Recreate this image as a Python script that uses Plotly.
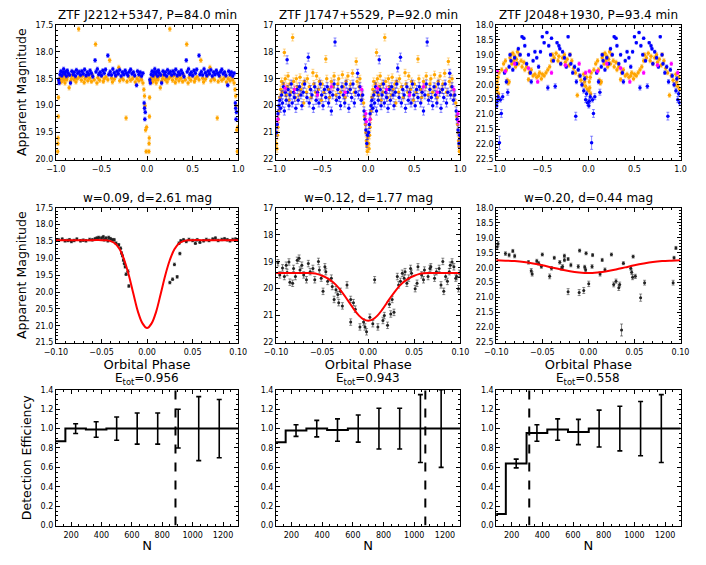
import plotly.graph_objects as go
from plotly.subplots import make_subplots

# The page body has an 8px margin, so the figure is sized and placed to compensate.
OFF = 8
W, H = 706 - OFF, 565 - OFF

# ---------------- data ----------------
titles_top = ["ZTF J2212+5347, P=84.0 min", "ZTF J1747+5529, P=92.0 min", "ZTF J2048+1930, P=93.4 min"]
titles_mid = ["w=0.09, d=2.61 mag", "w=0.12, d=1.77 mag", "w=0.20, d=0.44 mag"]
titles_bot = ["E<sub>tot</sub>=0.956", "E<sub>tot</sub>=0.943", "E<sub>tot</sub>=0.558"]
ytitles = ["Apparent Magnitude", "Apparent Magnitude", "Detection Efficiency"]
xtitles = [None, "Orbital Phase", "N"]

# Panel 1 (J2212+5347) folded light curve, phase 0..1
p1_or_ph = [0.020,0.022,0.024,0.026,0.028,0.034,0.04,0.05,0.06,0.07,0.08,0.09,0.10,0.11,0.12,0.13,0.145,0.16,0.17,0.18,
            0.20,0.21,0.22,0.235,0.25,0.26,0.28,0.29,0.31,0.32,0.34,0.35,0.37,0.39,0.40,0.42,0.435,0.45,0.46,0.48,
            0.50,0.52,0.53,0.55,0.57,0.59,0.61,0.62,0.64,0.66,0.69,0.70,0.72,0.74,0.77,0.78,0.80,0.82,0.84,0.86,
            0.87,0.89,0.91,0.92,0.94,0.955,0.965,0.972,0.978,0.984,0.99,0.995]
p1_or_mag = [19.85,19.70,19.60,19.20,18.85,18.55,18.52,18.48,18.56,18.50,18.45,18.53,18.58,18.48,18.52,18.46,18.67,18.55,18.50,18.44,
             18.52,18.48,18.56,18.50,17.58,18.47,18.53,18.45,18.57,18.50,18.46,18.54,18.49,18.55,18.44,18.52,17.86,18.58,18.48,18.53,
             18.45,18.55,18.50,18.47,18.52,18.16,18.49,18.56,18.51,18.45,18.29,18.54,18.48,18.52,19.23,18.55,18.47,18.53,18.50,18.45,
             18.56,18.50,18.54,18.46,18.52,18.58,18.70,18.82,19.00,19.45,19.85,19.40]
p1_or_err = 0.04
p1_bl_ph = [0.03,0.036,0.045,0.055,0.065,0.075,0.085,0.095,0.105,0.115,0.125,0.135,0.15,0.16,0.175,0.19,0.20,0.215,0.225,0.24,
            0.255,0.27,0.285,0.30,0.315,0.33,0.345,0.36,0.375,0.39,0.405,0.43,0.44,0.455,0.47,0.485,0.50,0.515,0.53,0.545,
            0.57,0.58,0.595,0.61,0.625,0.64,0.655,0.67,0.685,0.70,0.715,0.73,0.745,0.76,0.775,0.79,0.805,0.82,0.835,0.85,
            0.865,0.885,0.895,0.91,0.925,0.94,0.955,0.968,0.972,0.976,0.98]
p1_bl_mag = [18.52,18.58,18.42,18.36,18.44,18.38,18.32,18.41,18.37,18.45,18.35,18.40,18.43,18.58,18.36,18.42,18.38,18.45,18.34,18.40,
             18.37,18.43,18.36,18.41,18.33,18.44,18.38,18.42,18.35,18.40,18.46,18.16,18.37,18.32,18.42,18.38,18.44,18.35,18.40,18.33,
             18.07,18.42,18.37,18.43,18.32,18.39,18.44,18.36,18.41,18.34,18.45,18.38,18.42,18.35,18.40,18.44,18.37,18.33,18.41,18.38,
             18.44,18.62,18.36,18.42,18.38,18.45,18.40,18.95,19.05,19.25,19.12]
p1_bl_err = 0.035

# Panel 2 (J1747+5529)
p2_or_ph = [0.005,0.01,0.015,0.02,0.025,0.03,0.04,0.05,0.06,0.07,0.08,0.09,0.10,0.11,0.12,0.13,0.14,0.15,0.16,0.18,
            0.19,0.20,0.21,0.22,0.23,0.25,0.26,0.27,0.29,0.30,0.31,0.33,0.34,0.36,0.38,0.40,0.41,0.43,0.44,0.46,
            0.47,0.49,0.50,0.52,0.54,0.55,0.57,0.58,0.60,0.62,0.63,0.65,0.67,0.68,0.70,0.72,0.73,0.75,0.76,0.78,
            0.80,0.81,0.83,0.85,0.87,0.88,0.90,0.91,0.93,0.95,0.96,0.97,0.975,0.98,0.985,0.99,0.995]
p2_or_mag = [21.4,21.6,21.1,20.8,20.5,20.2,19.7,19.4,19.1,19.5,19.2,18.03,19.0,19.6,19.3,18.9,19.8,19.2,19.5,17.47,
             19.1,19.4,19.7,19.0,19.3,19.6,18.95,19.4,19.2,19.9,19.1,19.5,19.0,19.3,19.7,18.78,19.2,19.5,18.9,19.4,
             19.1,19.8,19.2,19.5,18.27,19.0,19.4,19.7,19.1,19.3,18.9,19.6,19.2,19.0,19.5,18.85,19.3,19.7,19.1,18.9,
             19.4,19.2,18.8,19.5,18.36,19.1,19.3,19.0,19.6,19.9,20.4,20.7,21.0,21.3,21.5,21.7,21.2]
p2_or_err = 0.13
p2_bl_ph = [0.005,0.012,0.02,0.03,0.04,0.05,0.06,0.07,0.08,0.09,0.10,0.11,0.12,0.13,0.14,0.15,0.165,0.175,0.19,0.20,
            0.215,0.23,0.24,0.255,0.27,0.28,0.295,0.31,0.32,0.335,0.35,0.36,0.375,0.39,0.405,0.42,0.435,0.45,0.465,0.48,
            0.495,0.51,0.525,0.54,0.555,0.57,0.585,0.60,0.615,0.63,0.64,0.655,0.67,0.685,0.70,0.715,0.73,0.745,0.76,0.775,
            0.79,0.805,0.82,0.835,0.85,0.865,0.885,0.895,0.91,0.925,0.94,0.955,0.965,0.975,0.985,0.992]
p2_bl_mag = [21.0,20.7,20.3,20.0,19.8,20.1,19.6,19.9,19.3,20.2,19.5,19.8,18.3,19.4,20.0,19.6,19.2,19.9,19.5,19.7,
             20.1,19.4,19.8,19.3,19.6,20.0,19.5,19.2,18.6,19.7,18.2,19.9,19.4,19.6,20.1,19.3,19.8,19.5,19.9,19.2,
             19.6,20.0,19.4,19.7,19.3,19.9,19.5,20.2,19.6,19.2,17.64,19.8,19.4,19.7,20.0,19.3,19.6,19.9,19.2,19.5,
             20.1,19.4,19.7,19.2,19.9,19.5,18.8,19.6,19.3,19.8,19.6,20.2,20.5,20.9,21.4,21.1]
p2_bl_err = 0.15
p2_mg_ph = [0.02,0.10,0.20,0.45,0.60,0.75,0.93,0.975,0.98]
p2_mg_mag = [20.5,19.35,19.4,19.6,19.3,19.5,19.4,20.3,20.6]
p2_mg_err = 0.12

# Panel 3 (J2048+1930)
p3_or_ph = [0.005,0.01,0.015,0.02,0.025,0.03,0.06,0.08,0.10,0.11,0.12,0.13,0.14,0.15,0.16,0.17,0.18,0.19,0.20,0.21,
            0.22,0.23,0.24,0.25,0.27,0.28,0.30,0.31,0.33,0.35,0.36,0.38,0.40,0.42,0.44,0.46,0.47,0.49,0.50,0.52,
            0.54,0.56,0.58,0.60,0.61,0.63,0.65,0.67,0.68,0.70,0.72,0.74,0.75,0.77,0.79,0.80,0.82,0.84,0.86,0.88,
            0.90,0.92,0.94,0.95,0.96,0.97,0.98,0.99]
p3_or_mag = [20.2,19.9,20.1,19.75,20.3,19.6,19.5,19.3,19.2,19.5,19.85,19.95,19.9,19.1,19.0,19.3,18.95,19.2,19.05,19.4,
             19.15,18.9,19.3,19.0,19.2,19.4,19.25,19.5,19.4,19.83,19.6,19.5,19.7,19.65,19.75,19.7,19.6,19.8,19.65,19.7,
             19.6,19.5,19.4,19.2,19.0,19.1,18.95,19.2,19.05,19.3,19.1,19.0,19.25,19.15,19.35,19.0,19.2,19.45,19.6,20.35,
             19.7,19.85,20.0,19.65,19.9,20.05,19.75,20.15]
p3_or_err = 0.07
p3_bl_ph = [0.005,0.01,0.02,0.035,0.045,0.055,0.07,0.09,0.11,0.125,0.14,0.15,0.16,0.18,0.20,0.22,0.24,0.26,0.28,0.30,
            0.31,0.33,0.35,0.37,0.38,0.40,0.42,0.44,0.46,0.48,0.50,0.52,0.55,0.56,0.57,0.59,0.60,0.62,0.64,0.66,
            0.68,0.69,0.70,0.72,0.74,0.76,0.78,0.80,0.81,0.83,0.85,0.863,0.87,0.89,0.91,0.93,0.95,0.96,0.97,0.98,0.99]
p3_bl_mag = [20.7,20.55,20.4,21.94,20.5,20.96,20.4,19.6,19.9,20.25,19.4,19.0,19.2,19.5,19.1,19.3,18.8,19.0,18.4,18.45,
             18.7,19.3,19.0,19.6,19.9,19.2,18.9,19.1,19.4,18.9,18.4,18.6,18.26,20.1,18.7,19.0,18.45,19.2,20.05,18.6,
             18.7,18.8,19.3,18.9,19.1,19.4,18.4,19.0,19.3,19.6,19.4,21.05,19.9,19.5,19.7,20.0,20.2,19.8,20.5,20.3,20.6]
p3_bl_err = [0.08,0.08,0.08,0.22,0.08,0.13,0.1,0.06,0.07,0.1,0.06,0.05,0.05,0.06,0.05,0.05,0.05,0.05,0.04,0.04,
             0.05,0.05,0.05,0.06,0.07,0.05,0.05,0.05,0.06,0.05,0.04,0.04,0.04,0.08,0.05,0.05,0.04,0.05,0.08,0.04,
             0.05,0.05,0.05,0.05,0.05,0.06,0.04,0.05,0.05,0.06,0.06,0.13,0.07,0.06,0.06,0.07,0.08,0.07,0.1,0.08,0.1]
p3_mg_ph = [0.01,0.10,0.20,0.35,0.45,0.60,0.75,0.90,0.97]
p3_mg_mag = [19.55,19.55,19.3,19.45,19.9,19.6,19.35,19.3,19.6]
p3_mg_err = 0.06

# Middle row: zoom on eclipse (black points) + model (red)
m1_ph = [-0.100,-0.097,-0.093,-0.090,-0.087,-0.085,-0.083,-0.080,-0.077,-0.073,-0.070,-0.067,-0.063,-0.060,-0.057,-0.055,-0.053,-0.050,
         -0.048,-0.047,-0.045,-0.043,-0.042,-0.040,-0.038,-0.036,-0.034,-0.031,-0.029,-0.028,-0.027,-0.026,-0.025,-0.024,-0.023,-0.021,-0.020,
         0.025,0.028,0.033,0.030,0.036,0.035,0.037,0.040,0.043,0.046,0.050,0.053,0.055,0.058,0.062,0.065,0.068,0.072,0.075,0.078,0.082,
         0.085,0.088,0.091,0.094,0.097,0.100]
m1_mag = [18.45,18.45,18.43,18.48,18.47,18.45,18.50,18.47,18.43,18.48,18.46,18.48,18.44,18.45,18.42,18.40,18.38,18.40,
          18.36,18.45,18.40,18.48,18.38,18.42,18.45,18.45,18.55,18.60,18.70,18.84,18.92,19.05,19.15,19.25,19.47,19.38,19.82,
          19.72,19.62,19.55,19.18,18.86,18.55,18.48,18.45,18.50,18.44,18.47,18.55,18.45,18.52,18.48,18.44,18.47,18.43,18.40,18.47,18.44,
          18.42,18.45,18.48,18.44,18.43,18.45]
m1_err = 0.04
m1_mod_ph = [-0.10,-0.06,-0.05,-0.045,-0.04,-0.035,-0.03,-0.025,-0.02,-0.015,-0.01,-0.005,0.0,
             0.005,0.01,0.015,0.02,0.025,0.03,0.035,0.04,0.045,0.05,0.06,0.10]
m1_mod_mag = [18.46,18.46,18.46,18.465,18.49,18.56,18.73,19.05,19.50,20.05,20.58,20.93,21.07,
              20.93,20.58,20.05,19.50,19.05,18.73,18.56,18.49,18.465,18.46,18.46,18.46]

m2_ph = [-0.098,-0.096,-0.093,-0.091,-0.089,-0.088,-0.086,-0.085,-0.082,-0.081,-0.079,-0.077,-0.075,-0.074,-0.072,-0.070,-0.067,-0.065,
         -0.063,-0.060,-0.058,-0.054,-0.053,-0.051,-0.049,-0.047,-0.046,-0.044,-0.040,-0.039,-0.037,-0.035,-0.033,-0.032,-0.030,-0.028,
         -0.023,-0.019,-0.016,-0.014,-0.019,-0.009,-0.005,-0.0035,-0.0018,0.0018,0.005,0.007,0.0105,0.016,0.0175,0.021,0.023,0.0245,
         0.028,0.026,0.0316,0.033,0.035,0.037,0.039,0.040,0.042,0.044,0.046,0.047,0.051,0.053,0.054,0.058,0.060,0.061,0.065,0.067,
         0.068,0.072,0.074,0.077,0.079,0.081,0.082,0.084,0.086,0.088,0.089,0.091,0.093,0.095,0.096,0.098,0.099]
m2_mag = [19.04,19.49,19.23,19.55,19.13,19.40,19.01,19.76,19.80,19.25,19.55,18.95,18.87,19.31,19.13,19.49,19.67,19.07,
          19.37,19.25,19.67,18.99,19.31,19.61,20.10,19.19,19.37,19.73,19.61,19.92,20.40,20.04,20.22,20.52,20.10,20.64,
          19.86,20.40,20.52,20.76,21.24,21.42,21.24,21.42,21.60,21.06,21.30,19.67,21.42,21.18,21.00,21.36,20.58,20.94,
          20.88,20.40,19.55,19.86,19.73,19.43,19.61,19.37,19.80,19.61,19.25,19.43,20.00,19.80,19.19,19.49,19.67,19.31,19.55,19.25,
          19.19,19.61,19.37,19.25,19.86,18.99,20.10,19.55,19.73,19.37,19.13,19.01,19.19,19.61,19.55,20.00,19.43]
m2_err = 0.12
m2_mod_ph = [-0.10,-0.07,-0.065,-0.06,-0.055,-0.05,-0.045,-0.04,-0.035,-0.03,-0.025,-0.02,-0.015,-0.01,-0.005,0.0,
             0.005,0.01,0.015,0.02,0.025,0.03,0.035,0.04,0.045,0.05,0.055,0.06,0.065,0.07,0.10]
m2_mod_mag = [19.42,19.42,19.42,19.43,19.46,19.52,19.60,19.71,19.86,20.06,20.29,20.54,20.79,21.00,21.14,21.19,
              21.14,21.00,20.79,20.54,20.29,20.06,19.86,19.71,19.60,19.52,19.46,19.43,19.42,19.42,19.42]

m3_ph = [-0.099,-0.098,-0.090,-0.086,-0.082,-0.080,-0.065,-0.062,-0.061,-0.056,-0.054,-0.051,-0.050,-0.042,-0.040,-0.037,-0.031,
         -0.029,-0.028,-0.026,-0.026,-0.022,-0.022,-0.019,-0.011,-0.010,-0.0095,-0.005,-0.004,-0.003,-0.0025,0.0004,0.004,0.0046,
         0.0127,0.015,0.018,0.025,0.0275,0.030,0.033,0.034,0.036,0.038,0.046,0.047,0.048,0.0486,0.051,0.0567,0.061,0.092,0.093,0.095]
m3_mag = [19.31,19.20,19.53,19.58,19.44,19.61,19.82,20.10,20.21,19.78,19.85,19.96,19.56,20.29,20.02,19.67,19.82,
          20.02,19.96,19.60,19.74,19.71,20.80,19.91,19.96,20.83,19.43,20.76,19.98,20.07,19.52,20.54,19.96,19.58,
          20.21,19.74,20.07,19.56,20.56,20.45,20.67,20.56,22.08,19.85,20.02,20.15,20.32,19.63,20.29,21.00,20.50,20.50,19.67,19.34]
m3_err = [0.08,0.08,0.06,0.06,0.05,0.06,0.06,0.07,0.07,0.06,0.06,0.06,0.05,0.08,0.06,0.05,0.06,
          0.06,0.06,0.05,0.06,0.05,0.1,0.06,0.06,0.1,0.05,0.1,0.06,0.06,0.05,0.09,0.06,0.05,
          0.07,0.05,0.06,0.05,0.08,0.07,0.09,0.08,0.2,0.05,0.06,0.07,0.08,0.05,0.07,0.12,0.08,0.08,0.05,0.05]
m3_mod_ph = [-0.10,-0.09,-0.08,-0.07,-0.06,-0.05,-0.04,-0.03,-0.02,-0.01,0.0,0.01,0.02,0.03,0.04,0.05,0.06,0.07,0.08,0.09,0.10]
m3_mod_mag = [19.755,19.765,19.78,19.81,19.86,19.92,19.99,20.06,20.12,20.16,20.18,20.16,20.12,20.06,19.99,19.92,19.86,19.81,19.78,19.765,19.755]

# Bottom row: detection efficiency vs N
n_bins = [95, 230, 365, 500, 635, 770, 905, 1040, 1175, 1310]
eff1 = [0.87, 1.00, 0.99, 1.00, 1.00, 1.00, 1.00, 1.00, 1.00, 1.00]
err1 = [0.0, 0.05, 0.08, 0.12, 0.16, 0.16, 0.20, 0.33, 0.30, 0.0]
eff2 = [0.86, 0.98, 1.00, 0.985, 1.00, 1.00, 1.00, 1.00, 1.00, 1.00]
err2 = [0.0, 0.06, 0.085, 0.115, 0.14, 0.21, 0.21, 0.35, 0.40, 0.0]
eff3 = [0.12, 0.64, 0.955, 0.99, 0.965, 1.00, 1.00, 1.00, 1.00, 1.00]
err3 = [0.0, 0.045, 0.085, 0.11, 0.13, 0.19, 0.23, 0.28, 0.35, 0.0]
n_thresh = [887, 1072, 315]

# ---------------- figure ----------------
FONT = "DejaVu Sans"
ORANGE = "#FFA500"
BLUE = "#0000FF"
MAGENTA = "#FF00FF"

fig = make_subplots(rows=3, cols=3)

# panel boxes in window pixels
cols_px = [(45, 233), (272, 462), (499, 689)]
rows_px = [(21, 158), (207, 344), (392, 530)]

def px_x(v):
    return (v - OFF) / W

def px_y(v):
    return 1 - (v - OFF) / H

def fold(ph, mag, err):
    x = list(ph) + [p - 1 for p in ph]
    y = list(mag) + list(mag)
    if isinstance(err, list):
        e = err + err
    else:
        e = [err] * len(y)
    return x, y, e

def rgba(hexc, a):
    h = hexc.lstrip('#')
    return "rgba(%d,%d,%d,%.2f)" % (int(h[0:2], 16), int(h[2:4], 16), int(h[4:6], 16), a)

def lc_trace(ph, mag, err, color, r, c):
    x, y, e = fold(ph, mag, err)
    fig.add_trace(go.Scatter(x=x, y=y, mode="markers",
                             marker=dict(color=color, size=3.5, line=dict(width=0)),
                             error_y=dict(type="data", array=e, color=rgba(color, 0.45), thickness=1, width=1.5),
                             showlegend=False), row=r, col=c)

top_sets = [
    [(p1_or_ph, p1_or_mag, p1_or_err, ORANGE), (p1_bl_ph, p1_bl_mag, p1_bl_err, BLUE)],
    [(p2_or_ph, p2_or_mag, p2_or_err, ORANGE), (p2_bl_ph, p2_bl_mag, p2_bl_err, BLUE), (p2_mg_ph, p2_mg_mag, p2_mg_err, MAGENTA)],
    [(p3_or_ph, p3_or_mag, p3_or_err, ORANGE), (p3_bl_ph, p3_bl_mag, p3_bl_err, BLUE), (p3_mg_ph, p3_mg_mag, p3_mg_err, MAGENTA)],
]
for ci, sets in enumerate(top_sets):
    for (ph, mag, err, col) in sets:
        lc_trace(ph, mag, err, col, 1, ci + 1)

mid_sets = [(m1_ph, m1_mag, m1_err, m1_mod_ph, m1_mod_mag),
            (m2_ph, m2_mag, m2_err, m2_mod_ph, m2_mod_mag),
            (m3_ph, m3_mag, m3_err, m3_mod_ph, m3_mod_mag)]
for ci, (ph, mag, err, mph, mmag) in enumerate(mid_sets):
    e = err if isinstance(err, list) else [err] * len(mag)
    fig.add_trace(go.Scatter(x=ph, y=mag, mode="markers",
                             marker=dict(color="#222222", size=3, line=dict(width=0)),
                             error_y=dict(type="data", array=e, color="rgba(0,0,0,0.45)", thickness=1, width=1.5),
                             showlegend=False), row=2, col=ci + 1)
    fig.add_trace(go.Scatter(x=mph, y=mmag, mode="lines", line=dict(color="#FF0000", width=2, shape="spline"),
                             showlegend=False), row=2, col=ci + 1)

bot_sets = [(eff1, err1), (eff2, err2), (eff3, err3)]
for ci, (eff, err) in enumerate(bot_sets):
    fig.add_trace(go.Scatter(x=n_bins, y=eff, mode="lines", line=dict(color="black", width=2, shape="hvh"),
                             showlegend=False), row=3, col=ci + 1)
    fig.add_trace(go.Scatter(x=n_bins[1:-1], y=eff[1:-1], mode="markers", marker=dict(color="black", size=1),
                             error_y=dict(type="data", array=err[1:-1], color="black", thickness=1.6, width=2.5),
                             showlegend=False), row=3, col=ci + 1)
    fig.add_trace(go.Scatter(x=[n_thresh[ci], n_thresh[ci]], y=[0, 1.4], mode="lines",
                             line=dict(color="black", width=2, dash="dash"), showlegend=False), row=3, col=ci + 1)

axis_common = dict(showline=True, linecolor="black", linewidth=1, mirror="ticks", ticks="inside",
                   ticklen=4, tickwidth=1, tickcolor="black", showgrid=False, zeroline=False,
                   tickfont=dict(family=FONT, size=8, color="black"))

top_y = [dict(range=[20.0, 17.5], dtick=0.5, tick0=17.5, tickformat=".1f", minor_dtick=0.1),
         dict(range=[22, 17], dtick=1, tick0=17, tickformat="d", minor_dtick=0.2),
         dict(range=[22.5, 18.0], dtick=0.5, tick0=18.0, tickformat=".1f", minor_dtick=0.1)]
mid_y = [dict(range=[21.5, 17.5], dtick=0.5, tick0=17.5, tickformat=".1f", minor_dtick=0.1),
         dict(range=[22, 17], dtick=1, tick0=17, tickformat="d", minor_dtick=0.2),
         dict(range=[22.5, 18.0], dtick=0.5, tick0=18.0, tickformat=".1f", minor_dtick=0.1)]

for r in range(3):
    for c in range(3):
        idx = r * 3 + c + 1
        xs = "xaxis" if idx == 1 else "xaxis%d" % idx
        ys = "yaxis" if idx == 1 else "yaxis%d" % idx
        x0, x1 = cols_px[c]
        y0, y1 = rows_px[r]
        xa = dict(axis_common, domain=[px_x(x0), px_x(x1)], ticklabelstandoff=2)
        ya = dict(axis_common, domain=[px_y(y1), px_y(y0)], ticklabelstandoff=0)
        if r == 0:
            xa.update(range=[-1, 1], dtick=0.5, tick0=-1, tickformat=".1f",
                      minor=dict(ticks="inside", ticklen=2, dtick=0.1, tickcolor="black"))
            yd = top_y[c]
        elif r == 1:
            xa.update(range=[-0.1, 0.1], dtick=0.05, tick0=-0.1, tickformat=".2f",
                      minor=dict(ticks="inside", ticklen=2, dtick=0.01, tickcolor="black"))
            yd = mid_y[c]
        else:
            xa.update(range=[100, 1300], dtick=200, tick0=0,
                      minor=dict(ticks="inside", ticklen=2, dtick=50, tickcolor="black"))
            yd = dict(range=[0, 1.4], dtick=0.2, tick0=0, tickformat=".1f", minor_dtick=0.05)
        ya.update(range=yd["range"], dtick=yd["dtick"], tick0=yd["tick0"], tickformat=yd["tickformat"],
                  minor=dict(ticks="inside", ticklen=2, dtick=yd["minor_dtick"], tickcolor="black"))
        if c == 0:
            ya.update(title=dict(text=ytitles[r], standoff=6, font=dict(family=FONT, size=12.5, color="black")))
        if xtitles[r] is not None:
            xa.update(title=dict(text=xtitles[r], standoff=1, font=dict(family=FONT, size=13, color="black")))
        fig.layout[xs].update(xa)
        fig.layout[ys].update(ya)

annotations = []
def add_text(text, xpx, ypx, size, angle=0, yanchor="middle"):
    annotations.append(dict(text=text, x=px_x(xpx), y=px_y(ypx), xref="paper", yref="paper",
                            showarrow=False, textangle=angle, xanchor="center", yanchor=yanchor,
                            font=dict(family=FONT, size=size, color="black")))

for c in range(3):
    xc = (cols_px[c][0] + cols_px[c][1]) / 2
    add_text(titles_top[c], xc, rows_px[0][0] - 0.5, 12, yanchor="bottom")
    add_text(titles_mid[c], xc, rows_px[1][0] - 0.5, 12, yanchor="bottom")
    add_text(titles_bot[c], xc, rows_px[2][0] - 0.5, 12, yanchor="bottom")

fig.update_layout(width=W, height=H, margin=dict(l=0, r=0, t=0, b=0),
                  paper_bgcolor="white", plot_bgcolor="white", showlegend=False,
                  annotations=annotations, font=dict(family=FONT))

fig.write_html("out.html")
